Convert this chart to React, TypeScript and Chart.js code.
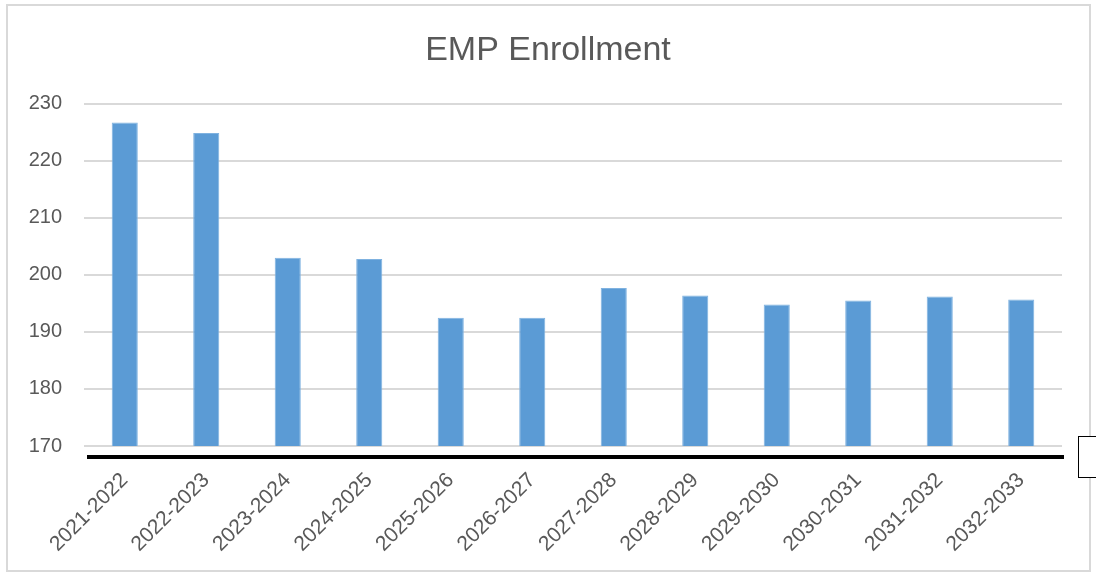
import React, { useEffect, useRef } from "react";
import { Chart, registerables } from "chart.js";

Chart.register(...registerables);

const categories = [
  "2021-2022", "2022-2023", "2023-2024", "2024-2025", "2025-2026", "2026-2027",
  "2027-2028", "2028-2029", "2029-2030", "2030-2031", "2031-2032", "2032-2033",
];
const enrollment = [226.7, 224.9, 203.0, 202.8, 192.5, 192.5, 197.7, 196.4, 194.8, 195.5, 196.2, 195.7];
const yMin = 170;
const yMax = 230;
const yStep = 10;
const chartTitle = "EMP Enrollment";

const FONT = "'Liberation Sans', Arial, sans-serif";
const TEXT = "#595959";

const decorPlugin = {
  id: "decor",
  beforeDraw(chart: any) {
    const { ctx, width, height } = chart;
    ctx.save();
    ctx.fillStyle = "#ffffff";
    ctx.fillRect(0, 0, width, height);
    ctx.strokeStyle = "#d9d9d9";
    ctx.lineWidth = 2;
    ctx.strokeRect(7, 5, 1083, 566);
    ctx.restore();
  },
  afterDraw(chart: any) {
    const { ctx, chartArea } = chart;
    ctx.save();
    // thick black baseline below the plot
    ctx.strokeStyle = "#000000";
    ctx.lineWidth = 4;
    ctx.beginPath();
    ctx.moveTo(chartArea.left + 3, chartArea.bottom + 11);
    ctx.lineTo(chartArea.right + 2, chartArea.bottom + 11);
    ctx.stroke();
    // small box at the right edge
    ctx.fillStyle = "#ffffff";
    ctx.fillRect(1078, 436, 30, 42);
    ctx.strokeStyle = "#000000";
    ctx.lineWidth = 1;
    ctx.strokeRect(1078.5, 436.5, 30, 41);
    ctx.restore();
  },
};

export default function App() {
  const ref = useRef<HTMLCanvasElement | null>(null);
  useEffect(() => {
    if (!ref.current) return;
    const chart = new Chart(ref.current, {
      type: "bar",
      data: {
        labels: categories,
        datasets: [
          {
            label: chartTitle,
            data: enrollment,
            backgroundColor: "#5b9bd5",
            borderColor: "#7fb2e0",
            borderWidth: 1,
            categoryPercentage: 1,
            barPercentage: 0.32,
          },
        ],
      },
      options: {
        animation: false,
        responsive: true,
        maintainAspectRatio: false,
        layout: { padding: 0 },
        plugins: {
          legend: { display: false },
          tooltip: { enabled: false },
          title: {
            display: true,
            text: chartTitle,
            color: TEXT,
            font: { family: FONT, size: 34, weight: "normal" },
            padding: { top: 30, bottom: 33 },
          },
        },
        scales: {
          x: {
            grid: { display: false, drawTicks: false },
            border: { display: false },
            ticks: {
              color: TEXT,
              font: { family: FONT, size: 21 },
              minRotation: 45,
              maxRotation: 45,
              padding: 22,
              autoSkip: false,
            },
            afterFit(scale: any) {
              scale.height = 127;
            },
          },
          y: {
            min: yMin,
            max: yMax,
            grid: { color: "#d9d9d9", lineWidth: 2, drawTicks: false },
            border: { display: false },
            ticks: {
              stepSize: yStep,
              color: TEXT,
              font: { family: FONT, size: 20 },
              padding: 22,
            },
            afterFit(scale: any) {
              scale.width = 84;
            },
          },
          yRight: {
            type: "linear",
            position: "right",
            min: yMin,
            max: yMax,
            grid: { display: false, drawTicks: false },
            border: { display: false },
            ticks: { display: false },
            afterFit(scale: any) {
              scale.width = 34;
            },
          },
        },
      },
      plugins: [decorPlugin],
    });
    return () => chart.destroy();
  }, []);
  return (
    <div style={{ position: "absolute", left: 0, top: 0, width: 1096, height: 573 }}>
      <canvas ref={ref} />
    </div>
  );
}
